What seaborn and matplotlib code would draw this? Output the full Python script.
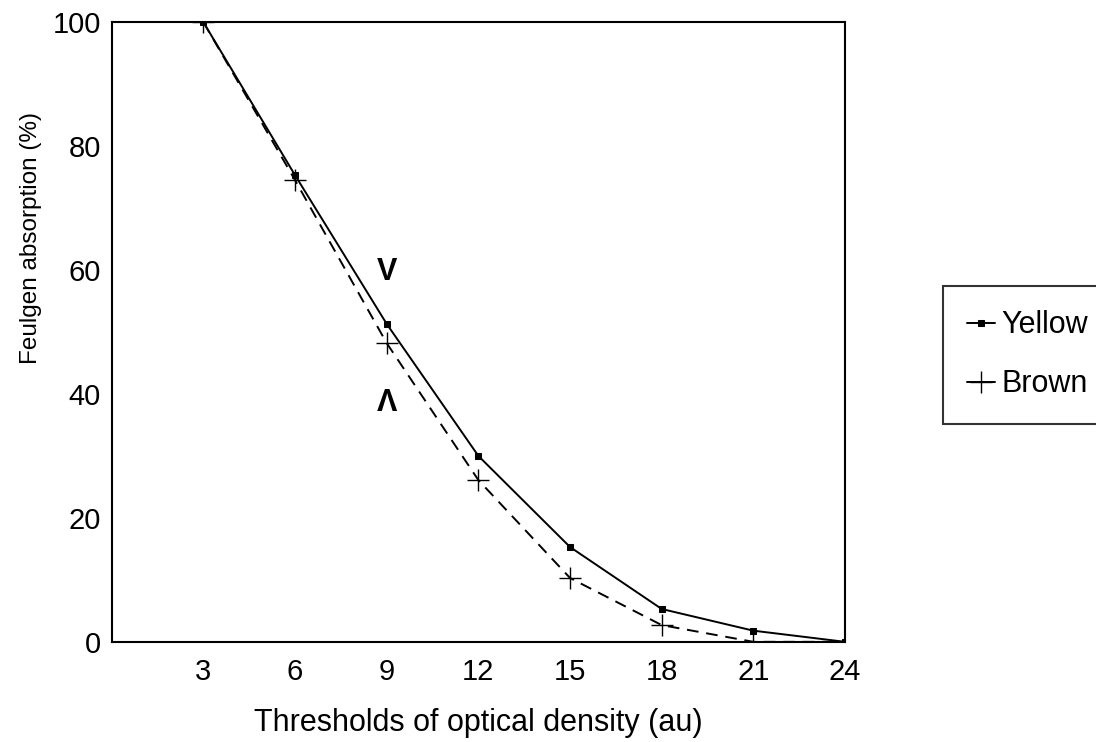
import matplotlib
matplotlib.use('Agg')
import matplotlib.pyplot as plt
import seaborn as sns
import pandas as pd

# data
thresholds = [3, 6, 9, 12, 15, 18, 21, 24]
yellow = [100, 75.3, 51.3, 30.0, 15.3, 5.3, 1.8, 0]
brown = [100, 74.5, 48.2, 26.1, 10.3, 2.7, 0, 0]
x_ticks = [3, 6, 9, 12, 15, 18, 21, 24]
y_ticks = [0, 20, 40, 60, 80, 100]

df = pd.DataFrame({'threshold': thresholds, 'Yellow': yellow, 'Brown': brown})

sns.set_style('white')
plt.rcParams['font.family'] = ['Liberation Sans', 'DejaVu Sans']
plt.rcParams['text.color'] = 'black'
plt.rcParams['xtick.color'] = 'black'
plt.rcParams['ytick.color'] = 'black'
plt.rcParams['axes.labelcolor'] = 'black'

fig = plt.figure(figsize=(10.96, 7.42), dpi=100)
ax = fig.add_axes([0.102, 0.135, 0.669, 0.835])

sns.lineplot(x='threshold', y='Yellow', data=df, ax=ax, color='black', lw=1.4,
             marker='s', markersize=5, markeredgecolor='black', label='Yellow')
sns.lineplot(x='threshold', y='Brown', data=df, ax=ax, color='black', lw=1.4,
             linestyle=(0, (6, 4)), marker='+', markersize=16, markeredgewidth=1.0,
             markeredgecolor='black', label='Brown')

ax.set_xlim(0, 24)
ax.set_ylim(0, 100)
ax.set_xticks(x_ticks)
ax.set_yticks(y_ticks)
ax.tick_params(axis='both', length=0, labelsize=21)
ax.tick_params(axis='x', pad=12)
ax.tick_params(axis='y', pad=8)
for s in ax.spines.values():
    s.set_color('black')
    s.set_linewidth(1.5)

ax.set_xlabel('Thresholds of optical density (au)', fontsize=22)
ax.set_ylabel('Feulgen absorption (%)', fontsize=17.5)
ax.xaxis.set_label_coords(0.5, -0.106)
ax.yaxis.set_label_coords(-0.095, 0.652)

# V / Λ marks around the 9 point
ax.text(9, 59.7, 'V', fontsize=22, fontweight='bold', ha='center', va='center')
ax.text(9, 38.5, 'Λ', fontsize=22, fontweight='bold', ha='center', va='center')

leg = ax.legend(loc='upper left', bbox_to_anchor=(943 / 1096, 1 - 286 / 742),
                bbox_transform=fig.transFigure, borderaxespad=0, fontsize=22,
                frameon=True, fancybox=False, edgecolor='black', handlelength=0.9,
                handletextpad=0.2, labelspacing=0.95, borderpad=0.8)
leg.get_frame().set_linewidth(1.5)
for h in leg.legend_handles:
    h.set_linestyle('-')

fig.savefig('out.png', dpi=100)
